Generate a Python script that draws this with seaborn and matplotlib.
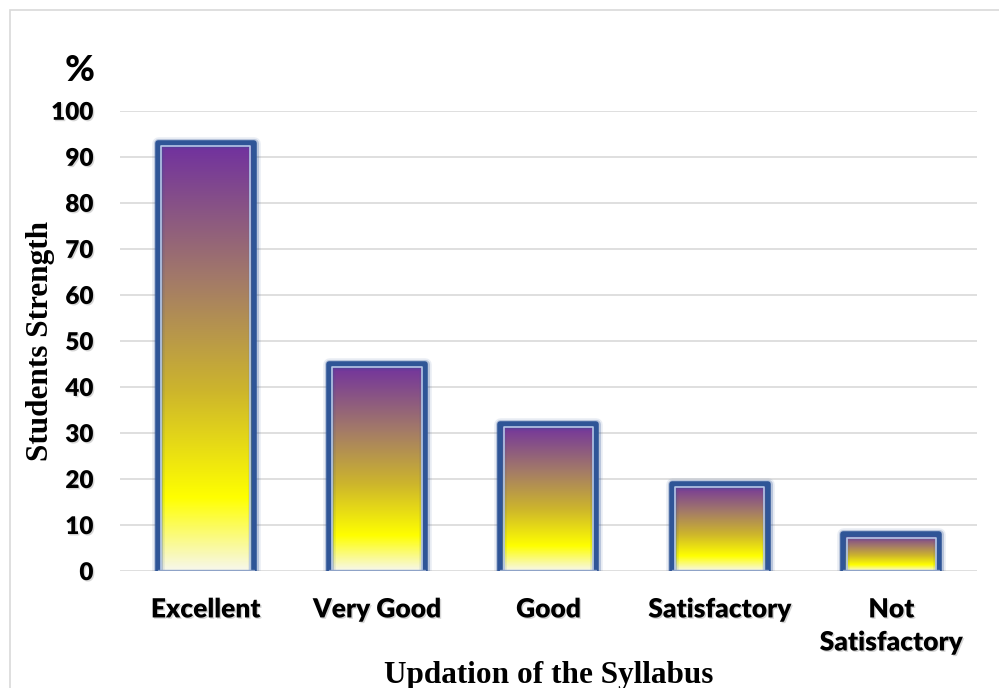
import numpy as np
import matplotlib
matplotlib.use("Agg")
import matplotlib.pyplot as plt
import matplotlib.patheffects as pe
from matplotlib.colors import LinearSegmentedColormap
from matplotlib.patches import Rectangle
import seaborn as sns

# Data
categories = ['Excellent', 'Very Good', 'Good', 'Satisfactory', 'Not\nSatisfactory']
values = [93, 45, 32, 19, 8]
y_ticks = [0, 10, 20, 30, 40, 50, 60, 70, 80, 90, 100]

sns.set_theme(style='white')
plt.rcParams['font.family'] = ['Lato', 'DejaVu Sans']
plt.rcParams['font.weight'] = 'heavy'

fig = plt.figure(figsize=(9.99, 6.88), dpi=100)
ax = fig.add_axes([0.12, 0.17, 0.858, 0.669])

sns.barplot(x=categories, y=values, color='#7030A0', width=0.56, ax=ax,
            saturation=1, zorder=2)

# gradient from white (bottom) through yellow, gold, mauve to purple (top)
grad = LinearSegmentedColormap.from_list('bar_grad', [
    (0.0, '#F7F7EC'),
    (0.17, '#FFFF00'),
    (0.42, '#CDB52C'),
    (0.68, '#A37A68'),
    (1.0, '#7030A0'),
])
g = np.linspace(0, 1, 256).reshape(-1, 1)

for p in ax.patches:
    x0, w, h = p.get_x(), p.get_width(), p.get_height()
    p.set_facecolor('none')
    p.set_edgecolor('none')
    ax.imshow(g, cmap=grad, origin='lower', aspect='auto',
              extent=[x0, x0 + w, 0, h], zorder=3, interpolation='bilinear')
    xs = [x0, x0, x0 + w, x0 + w]
    ys = [0, h, h, 0]
    ax.plot(xs, ys, color='#2F5597', lw=4, solid_joinstyle='round', zorder=4,
            path_effects=[pe.Stroke(linewidth=9, foreground='#2F5597', alpha=0.10),
                          pe.Stroke(linewidth=6.5, foreground='#2F5597', alpha=0.25),
                          pe.Normal()])
    dx, dy = 0.02, 0.75
    ax.plot([x0 + dx, x0 + dx, x0 + w - dx, x0 + w - dx],
            [0, h - dy, h - dy, 0], color='#B4C7E7', lw=1.2, zorder=5)
    ax.plot([x0, x0 + w], [0.15, 0.15], color='#8FA3C7', lw=1, zorder=5)

ax.set_xlim(-0.5, len(categories) - 0.5)
ax.set_ylim(0, 100)
ax.set_yticks(y_ticks)
ax.set_xticks(range(len(categories)))
ax.set_xticklabels(categories, linespacing=1.45)
ax.grid(axis='y', color='#D9D9D9', lw=1.2, zorder=0)
ax.grid(axis='x', visible=False)
ax.set_axisbelow(True)
sns.despine(ax=ax, left=True, bottom=True)

ax.tick_params(axis='y', length=0, pad=19, labelsize=17.5, labelcolor='black')
ax.tick_params(axis='x', length=0, pad=19, labelsize=19, labelcolor='black')

shadow = [pe.SimplePatchShadow(offset=(1, -1), shadow_rgbFace='#999999', alpha=0.4),
          pe.Normal()]
for lab in ax.get_xticklabels() + ax.get_yticklabels():
    lab.set_path_effects(shadow)

ax.set_ylabel('Students Strength', family='Liberation Serif', fontweight='bold',
              fontsize=22.5, color='black')
ax.yaxis.set_label_coords(-0.0755, 0.5)
ax.set_xlabel('Updation of the Syllabus', family='Liberation Serif',
              fontweight='bold', fontsize=22.5, color='black')
ax.xaxis.set_label_coords(0.5, -0.195)

fig.text(0.08, 0.898, '%', fontsize=26, fontweight='black', ha='center',
         va='center', color='black')

# outer frame of the picture
fig.patches.append(Rectangle((10 / 999, -0.1), 1.2, 1.1 - 10 / 688,
                             transform=fig.transFigure, fill=False,
                             edgecolor='#D9D9D9', lw=1.2))

fig.savefig('out.png', dpi=100)
